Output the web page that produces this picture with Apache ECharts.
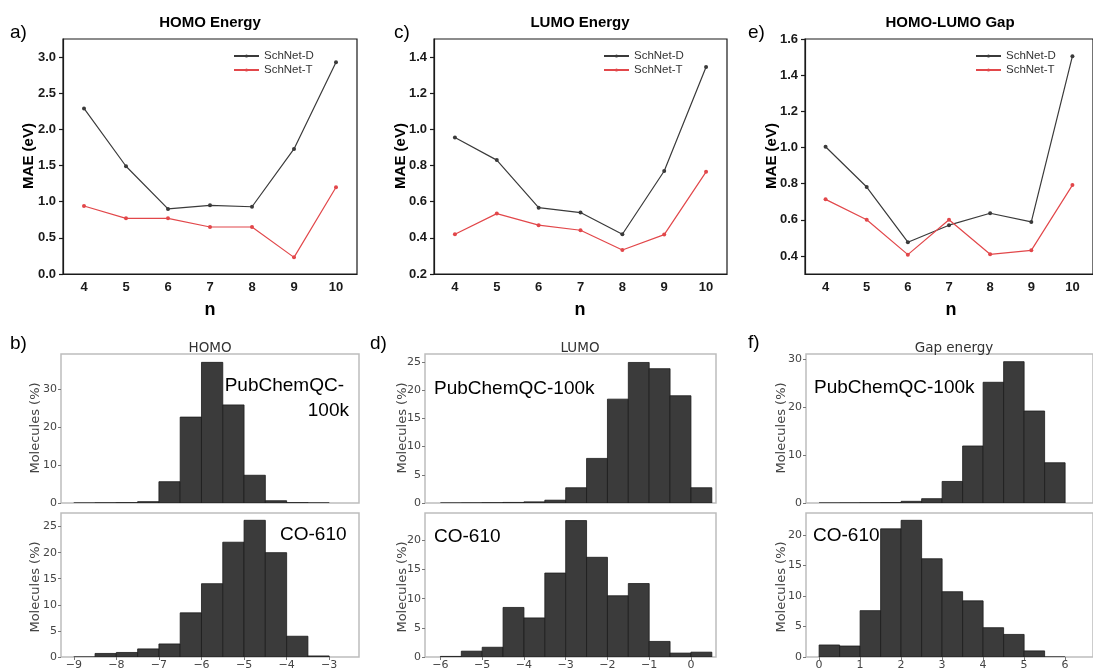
<!DOCTYPE html>
<html>
<head>
<meta charset="utf-8">
<script src="https://cdn.jsdelivr.net/npm/echarts@6/dist/echarts.min.js"></script>
<style>
  html, body { margin: 0; padding: 0; background: #ffffff; }
  #chart { width: 1093px; height: 671px; }
</style>
</head>
<body>
<div id="chart"></div>
<script>
// ---- MAE vs. number of heavy atoms n ----
const nValues = ['4', '5', '6', '7', '8', '9', '10'];
const seriesNames = ['SchNet-D', 'SchNet-T'];

const homoMaeD = [2.29, 1.49, 0.90, 0.95, 0.93, 1.73, 2.93];
const homoMaeT = [0.94, 0.77, 0.77, 0.65, 0.65, 0.23, 1.20];
const lumoMaeD = [0.955, 0.83, 0.567, 0.54, 0.42, 0.77, 1.345];
const lumoMaeT = [0.42, 0.534, 0.47, 0.442, 0.333, 0.418, 0.765];
const gapMaeD = [1.004, 0.781, 0.476, 0.57, 0.636, 0.588, 1.505];
const gapMaeT = [0.713, 0.60, 0.407, 0.60, 0.409, 0.431, 0.792];

const homoMaeTicks = [0, 0.5, 1.0, 1.5, 2.0, 2.5, 3.0];
const lumoMaeTicks = [0.2, 0.4, 0.6, 0.8, 1.0, 1.2, 1.4];
const gapMaeTicks = [0.4, 0.6, 0.8, 1.0, 1.2, 1.4, 1.6];

// ---- energy distributions (eV), percentage of molecules per bin ----
const homoBinEdges = [-9, -8.5, -8, -7.5, -7, -6.5, -6, -5.5, -5, -4.5, -4, -3.5, -3];
const homoPubchem = [0, 0.05, 0.1, 0.35, 5.6, 22.6, 37.0, 25.8, 7.3, 0.6, 0.1, 0.02];
const homoCo610 = [0, 0.68, 0.87, 1.55, 2.5, 8.46, 14.05, 22.0, 26.2, 20.0, 3.98, 0.2];

const lumoBinEdges = [-6, -5.5, -5, -4.5, -4, -3.5, -3, -2.5, -2, -1.5, -1, -0.5, 0, 0.5];
const lumoPubchem = [0, 0.02, 0.05, 0.1, 0.2, 0.5, 2.7, 7.9, 18.4, 24.9, 23.8, 19.0, 2.7];
const lumoCo610 = [0.1, 1.0, 1.67, 8.5, 6.7, 14.4, 23.4, 17.1, 10.5, 12.6, 2.67, 0.67, 0.83];

const gapBinEdges = [0, 0.5, 1, 1.5, 2, 2.5, 3, 3.5, 4, 4.5, 5, 5.5, 6];
const gapPubchem = [0, 0.02, 0.05, 0.1, 0.35, 0.9, 4.5, 11.9, 25.2, 29.5, 19.2, 8.4];
const gapCo610 = [1.97, 1.8, 7.6, 21.0, 22.4, 16.1, 10.7, 9.2, 4.8, 3.7, 1.0, 0];

const homoEnergyTicks = [-9, -8, -7, -6, -5, -4, -3];
const lumoEnergyTicks = [-6, -5, -4, -3, -2, -1, 0];
const gapEnergyTicks = [0, 1, 2, 3, 4, 5, 6];

const tickTen = [0, 10, 20, 30];
const tickFive25 = [0, 5, 10, 15, 20, 25];
const tickFive20 = [0, 5, 10, 15, 20];

// ---------------------------------------------------------------
const BOLD = 'Liberation Sans, Arial, sans-serif';
const MPL = 'DejaVu Sans, sans-serif';
const INK = '#1a1a1a';
const DARK_LINE = '#3a3a3a';
const RED_LINE = '#e2474a';

function binTable(edges, values) {
  return values.map((v, i) => [edges[i], edges[i + 1], v]);
}

function renderBin(params, api) {
  const x0 = api.value(0), x1 = api.value(1), h = api.value(2);
  const top = api.coord([x0, h]);
  const base = api.coord([x1, 0]);
  return {
    type: 'rect',
    shape: { x: top[0], y: top[1], width: base[0] - top[0], height: base[1] - top[1] },
    style: { fill: '#3b3b3b', stroke: '#1c1c1c', lineWidth: 0.8 }
  };
}

const lineGrids = [
  { left: 63, top: 39, width: 294, height: 235 },
  { left: 434, top: 39, width: 293, height: 235 },
  { left: 805, top: 39, width: 293, height: 235 }
];
const histGrids = [
  { left: 61, top: 354, width: 298, height: 149 },
  { left: 61, top: 513, width: 298, height: 148 },
  { left: 425, top: 354, width: 291, height: 149 },
  { left: 425, top: 513, width: 291, height: 148 },
  { left: 806, top: 354, width: 292, height: 149 },
  { left: 806, top: 513, width: 292, height: 148 }
];

const grid = [];
lineGrids.forEach(g => grid.push(Object.assign({ show: true, borderColor: INK, borderWidth: 1.2, backgroundColor: 'transparent' }, g)));
histGrids.forEach(g => grid.push(Object.assign({ show: true, borderColor: '#bdbdbd', borderWidth: 1.5, backgroundColor: 'transparent' }, g)));

const xAxis = [];
const yAxis = [];

// line-chart axes
const lineY = [
  { min: 0, max: 3.25, ticks: homoMaeTicks },
  { min: 0.2, max: 1.5, ticks: lumoMaeTicks },
  { min: 0.3, max: 1.6, ticks: gapMaeTicks }
];
lineY.forEach((cfg, i) => {
  xAxis.push({
    gridIndex: i, type: 'category', data: nValues, boundaryGap: true,
    axisLine: { onZero: false, lineStyle: { color: INK, width: 1.2 } },
    axisTick: { alignWithLabel: true, interval: 0, length: 4, lineStyle: { color: INK, width: 1.2 } },
    axisLabel: { interval: 0, color: INK, fontWeight: 'bold', fontSize: 13, fontFamily: BOLD, margin: 7 },
    splitLine: { show: false }
  });
  yAxis.push({
    gridIndex: i, type: 'value', min: cfg.min, max: cfg.max,
    axisLine: { show: true, onZero: false, lineStyle: { color: INK, width: 1.2 } },
    axisTick: { show: true, length: 4, customValues: cfg.ticks, lineStyle: { color: INK, width: 1.2 } },
    axisLabel: { customValues: cfg.ticks, formatter: v => Number(v).toFixed(1), color: INK, fontWeight: 'bold', fontSize: 13, fontFamily: BOLD, margin: 7 },
    splitLine: { show: false }
  });
});

// histogram axes
const histCfg = [
  { xmin: -9.3, xmax: -2.3, xticks: homoEnergyTicks, ymax: 39.2, yticks: tickTen, showX: false },
  { xmin: -9.3, xmax: -2.3, xticks: homoEnergyTicks, ymax: 27.6, yticks: tickFive25, showX: true },
  { xmin: -6.37, xmax: 0.6, xticks: lumoEnergyTicks, ymax: 26.4, yticks: tickFive25, showX: false },
  { xmin: -6.37, xmax: 0.6, xticks: lumoEnergyTicks, ymax: 24.7, yticks: tickFive20, showX: true },
  { xmin: -0.32, xmax: 6.68, xticks: gapEnergyTicks, ymax: 31.1, yticks: tickTen, showX: false },
  { xmin: -0.32, xmax: 6.68, xticks: gapEnergyTicks, ymax: 23.6, yticks: tickFive20, showX: true }
];
histCfg.forEach((cfg, k) => {
  const gi = 3 + k;
  xAxis.push({
    gridIndex: gi, type: 'value', min: cfg.xmin, max: cfg.xmax, position: 'bottom',
    axisLine: { show: false, onZero: false },
    axisTick: { show: cfg.showX, length: 3, customValues: cfg.xticks, lineStyle: { color: '#777' } },
    axisLabel: { show: cfg.showX, customValues: cfg.xticks, formatter: v => String(v).replace('-', '\u2212'), color: '#444', fontSize: 11, fontFamily: MPL, margin: 3 },
    splitLine: { show: false }
  });
  yAxis.push({
    gridIndex: gi, type: 'value', min: 0, max: cfg.ymax, position: 'left',
    axisLine: { show: false, onZero: false },
    axisTick: { show: true, length: 3, customValues: cfg.yticks, lineStyle: { color: '#777' } },
    axisLabel: { customValues: cfg.yticks, color: '#444', fontSize: 11, fontFamily: MPL, margin: 4 },
    splitLine: { show: false }
  });
});

function maeSeries(name, data, idx, color) {
  return {
    name: name, type: 'line', xAxisIndex: idx, yAxisIndex: idx, data: data,
    symbol: 'circle', symbolSize: 4, showSymbol: true,
    lineStyle: { color: color, width: 1.2 },
    itemStyle: { color: color },
    animation: false, z: 3
  };
}

function histSeries(edges, values, idx) {
  return {
    type: 'custom', xAxisIndex: idx, yAxisIndex: idx,
    data: binTable(edges, values),
    encode: { x: [0, 1], y: 2 },
    renderItem: renderBin, clip: true, animation: false, silent: true
  };
}

const series = [
  maeSeries(seriesNames[0], homoMaeD, 0, DARK_LINE),
  maeSeries(seriesNames[1], homoMaeT, 0, RED_LINE),
  maeSeries(seriesNames[0], lumoMaeD, 1, DARK_LINE),
  maeSeries(seriesNames[1], lumoMaeT, 1, RED_LINE),
  maeSeries(seriesNames[0], gapMaeD, 2, DARK_LINE),
  maeSeries(seriesNames[1], gapMaeT, 2, RED_LINE),
  histSeries(homoBinEdges, homoPubchem, 3),
  histSeries(homoBinEdges, homoCo610, 4),
  histSeries(lumoBinEdges, lumoPubchem, 5),
  histSeries(lumoBinEdges, lumoCo610, 6),
  histSeries(gapBinEdges, gapPubchem, 7),
  histSeries(gapBinEdges, gapCo610, 8)
];

function legendAt(left) {
  return {
    left: left, top: 45, orient: 'vertical', itemGap: 2,
    itemWidth: 25, itemHeight: 4, data: seriesNames,
    textStyle: { fontSize: 11.5, color: '#333', fontFamily: BOLD },
    selectedMode: false
  };
}

function txt(x, y, s, opts) {
  const o = opts || {};
  return {
    type: 'text', x: x, y: y, rotation: o.rotation || 0, z: 100,
    style: {
      text: s, fill: o.color || '#000', align: o.align || 'center', verticalAlign: 'middle',
      font: (o.weight || 'normal') + ' ' + (o.size || 12) + 'px ' + (o.family || BOLD)
    }
  };
}

const graphic = [
  // panel letters
  txt(10, 33, 'a)', { align: 'left', size: 19 }),
  txt(394, 33, 'c)', { align: 'left', size: 19 }),
  txt(748, 33, 'e)', { align: 'left', size: 19 }),
  txt(10, 344, 'b)', { align: 'left', size: 19 }),
  txt(370, 344, 'd)', { align: 'left', size: 19 }),
  txt(748, 343, 'f)', { align: 'left', size: 19 }),
  // line-chart titles
  txt(210, 23, 'HOMO Energy', { weight: 'bold', size: 15 }),
  txt(580, 23, 'LUMO Energy', { weight: 'bold', size: 15 }),
  txt(950, 23, 'HOMO-LUMO Gap', { weight: 'bold', size: 15 }),
  // axis names of line charts
  txt(210, 310, 'n', { weight: 'bold', size: 18 }),
  txt(580, 310, 'n', { weight: 'bold', size: 18 }),
  txt(951, 310, 'n', { weight: 'bold', size: 18 }),
  txt(29, 156, 'MAE (eV)', { weight: 'bold', size: 15, rotation: Math.PI / 2 }),
  txt(401, 156, 'MAE (eV)', { weight: 'bold', size: 15, rotation: Math.PI / 2 }),
  txt(772, 156, 'MAE (eV)', { weight: 'bold', size: 15, rotation: Math.PI / 2 }),
  // histogram titles
  txt(210, 348, 'HOMO', { size: 13.5, family: MPL, color: '#333' }),
  txt(580, 348, 'LUMO', { size: 13.5, family: MPL, color: '#333' }),
  txt(954, 348, 'Gap energy', { size: 13.5, family: MPL, color: '#333' }),
  // histogram y names
  txt(36, 428, 'Molecules (%)', { size: 13, family: MPL, color: '#444', rotation: Math.PI / 2 }),
  txt(36, 587, 'Molecules (%)', { size: 13, family: MPL, color: '#444', rotation: Math.PI / 2 }),
  txt(403, 428, 'Molecules (%)', { size: 13, family: MPL, color: '#444', rotation: Math.PI / 2 }),
  txt(403, 587, 'Molecules (%)', { size: 13, family: MPL, color: '#444', rotation: Math.PI / 2 }),
  txt(782, 428, 'Molecules (%)', { size: 13, family: MPL, color: '#444', rotation: Math.PI / 2 }),
  txt(782, 587, 'Molecules (%)', { size: 13, family: MPL, color: '#444', rotation: Math.PI / 2 }),
  // dataset labels
  txt(344, 386, 'PubChemQC-', { align: 'right', size: 19 }),
  txt(349, 411, '100k', { align: 'right', size: 19 }),
  txt(280, 535, 'CO-610', { align: 'left', size: 19 }),
  txt(434, 389, 'PubChemQC-100k', { align: 'left', size: 19 }),
  txt(434, 537, 'CO-610', { align: 'left', size: 19 }),
  txt(814, 388, 'PubChemQC-100k', { align: 'left', size: 19 }),
  txt(813, 536, 'CO-610', { align: 'left', size: 19 })
];

const chart = echarts.init(document.getElementById('chart'), null, { renderer: 'canvas' });
chart.setOption({
  animation: false,
  backgroundColor: '#ffffff',
  grid: grid,
  xAxis: xAxis,
  yAxis: yAxis,
  legend: [legendAt(228), legendAt(598), legendAt(970)],
  series: series,
  graphic: graphic
});
</script>
</body>
</html>
